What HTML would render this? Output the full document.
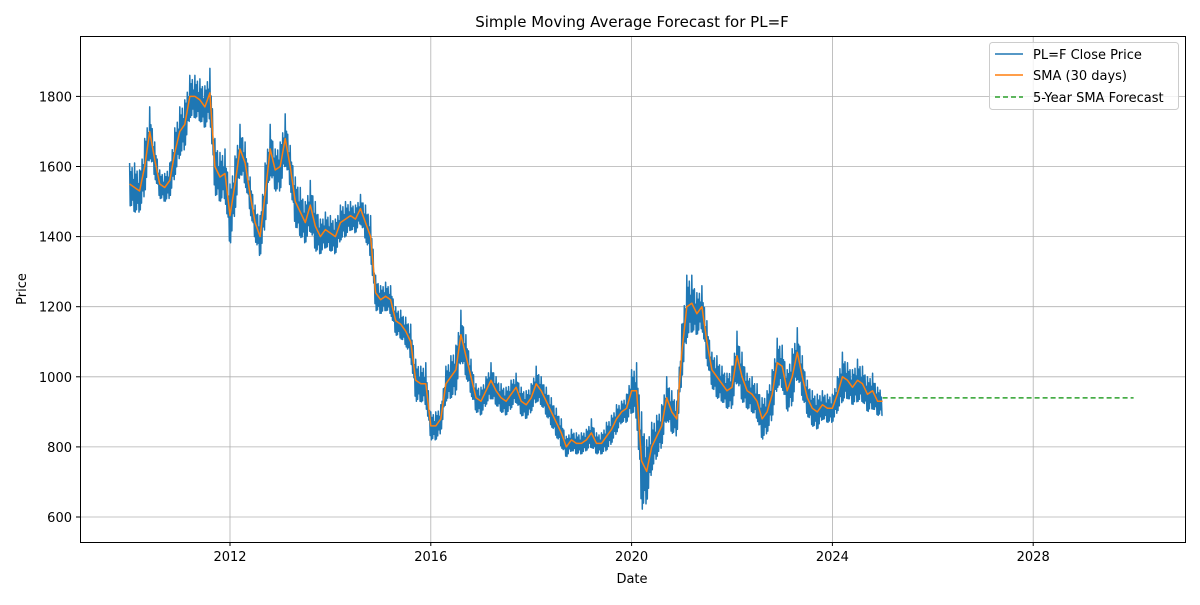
<!DOCTYPE html>
<html><head><meta charset="utf-8"><style>
body{margin:0;background:#fff;}
svg text{font-family:"DejaVu Sans","Liberation Sans",sans-serif;fill:#000;}
</style></head><body>
<svg id="chart" width="1200" height="600" viewBox="0 0 1200 600" xmlns="http://www.w3.org/2000/svg">
<rect width="1200" height="600" fill="#fff"/>
<text x="632" y="27" font-size="15" text-anchor="middle">Simple Moving Average Forecast for PL=F</text>
<g id="grid"></g>
<g id="series"></g>
<rect x="80.5" y="36.5" width="1105" height="506" fill="none" stroke="#000" stroke-width="1"/>
<g id="ticks"></g>
<text x="632" y="583" font-size="13" text-anchor="middle">Date</text>
<text x="26" y="289" font-size="13" text-anchor="middle" transform="rotate(-90 26 289)">Price</text>
<g>
<rect x="989.5" y="42.5" width="189" height="67" rx="3" fill="#fff" fill-opacity="0.8" stroke="#ccc"/>
<g><line x1="995" y1="54" x2="1023" y2="54" stroke="#1f77b4" stroke-width="1.5"/><text x="1033" y="59" font-size="13">PL=F Close Price</text></g>
<g><line x1="995" y1="75" x2="1023" y2="75" stroke="#ff7f0e" stroke-width="1.5"/><text x="1033" y="80" font-size="13">SMA (30 days)</text></g>
<g><line x1="995" y1="97" x2="1023" y2="97" stroke="#2ca02c" stroke-width="1.5" stroke-dasharray="5,3"/><text x="1033" y="102" font-size="13">5-Year SMA Forecast</text></g>
</g>
</svg>
<script>
const startYear=2010.0, stepYears=0.1;
const sma=[
1550,1540,1530,1600,1700,1620,1550,1540,1560,1640,
1700,1720,1800,1800,1790,1770,1810,1600,1570,1580,
1460,1550,1650,1610,1520,1440,1400,1520,1650,1590,
1600,1680,1600,1500,1470,1440,1490,1430,1400,1420,
1410,1400,1440,1450,1460,1450,1480,1440,1400,1240,
1220,1230,1220,1160,1150,1130,1100,990,980,980,
860,860,880,980,1000,1020,1120,1060,1000,940,
930,960,990,960,940,930,950,970,930,920,
940,980,960,930,900,870,840,800,820,810,
810,820,840,810,810,830,850,880,900,910,
960,960,760,730,800,830,860,940,900,880,
1070,1200,1210,1180,1200,1100,1020,1000,980,960,
970,1060,1000,960,950,930,880,900,950,1040,
1030,960,1000,1070,1000,940,910,900,920,910,
910,950,1000,990,970,990,980,950,960,930,
930];
const spread=[
60,70,60,80,70,50,40,40,50,70,
70,70,60,60,60,60,70,80,70,70,
90,80,70,60,50,50,60,90,70,60,
70,70,60,70,70,60,70,70,50,50,
50,50,50,50,40,40,40,50,60,50,
40,40,40,40,40,40,50,60,50,60,
40,40,40,50,60,70,70,60,50,40,
40,40,50,40,40,40,40,40,40,40,
40,50,40,40,40,40,40,30,30,30,
30,30,40,30,30,40,40,40,30,40,
60,80,140,90,70,60,60,60,60,50,
80,90,80,60,60,60,50,60,50,50,
60,70,70,50,50,50,60,60,70,70,
60,60,80,70,60,50,50,50,40,40,
40,50,70,50,50,60,50,50,50,40,
40];
const forecastStart=2025.0, forecastEnd=2030.0, forecastValue=940;
const xTicks=[2012,2016,2020,2024,2028];
const yTicks=[600,800,1000,1200,1400,1600,1800];
const NS='http://www.w3.org/2000/svg';
function xs(t){return 230+(t-2012)*50.2;}
function ys(v){return 517-(v-600)*0.3505;}
function dateAt(i){return startYear+i*stepYears;}
const grid=document.getElementById('grid'),ticks=document.getElementById('ticks'),series=document.getElementById('series');
function mk(tag,attrs,parent){const e=document.createElementNS(NS,tag);for(const k in attrs)e.setAttribute(k,attrs[k]);parent.appendChild(e);return e;}
xTicks.forEach(t=>{const x=xs(t);
const g=mk('line',{x1:x,y1:36,x2:x,y2:542,stroke:'#b0b0b0','stroke-width':0.8},grid);


const tk=mk('line',{x1:x,y1:542,x2:x,y2:546,stroke:'#000'},ticks);


const tx=mk('text',{x:x,y:561,'font-size':13,'text-anchor':'middle'},ticks);tx.textContent=t;

});
yTicks.forEach(v=>{const y=ys(v);
const g=mk('line',{x1:80,y1:y,x2:1185,y2:y,stroke:'#b0b0b0','stroke-width':0.8},grid);


const tk=mk('line',{x1:76,y1:y,x2:80,y2:y,stroke:'#000'},ticks);


const tx=mk('text',{x:72,y:y+5,'font-size':13,'text-anchor':'end'},ticks);tx.textContent=v;

});
const pattern=[1,-1,0.6,-0.9,0.8,-0.6,0.3,-1];
let pts=[];
const N=sma.length;
for(let i=0;i<N-1;i++){const d0=dateAt(i),d1=dateAt(i+1);const n=pattern.length;
for(let k=0;k<n;k++){const t=d0+(d1-d0)*k/n;const m=sma[i]+(sma[i+1]-sma[i])*k/n;const sp=spread[i]+(spread[i+1]-spread[i])*k/n;
pts.push(xs(t).toFixed(1)+','+ys(m+sp*pattern[k]).toFixed(1));}}
pts.push(xs(dateAt(N-1)).toFixed(1)+','+ys(sma[N-1]-40).toFixed(1));
const cl=mk('polyline',{points:pts.join(' '),fill:'none',stroke:'#1f77b4','stroke-width':1.5,'stroke-linejoin':'round'},series);


const sl=mk('polyline',{points:sma.map((v,i)=>xs(dateAt(i)).toFixed(1)+','+ys(v).toFixed(1)).join(' '),fill:'none',stroke:'#ff7f0e','stroke-width':1.5,'stroke-linejoin':'round'},series);


const fc=mk('line',{x1:xs(forecastStart),y1:ys(forecastValue),x2:xs(forecastEnd),y2:ys(forecastValue),stroke:'#2ca02c','stroke-width':1.5,'stroke-dasharray':'5,3'},series);


</script>
</body></html>
